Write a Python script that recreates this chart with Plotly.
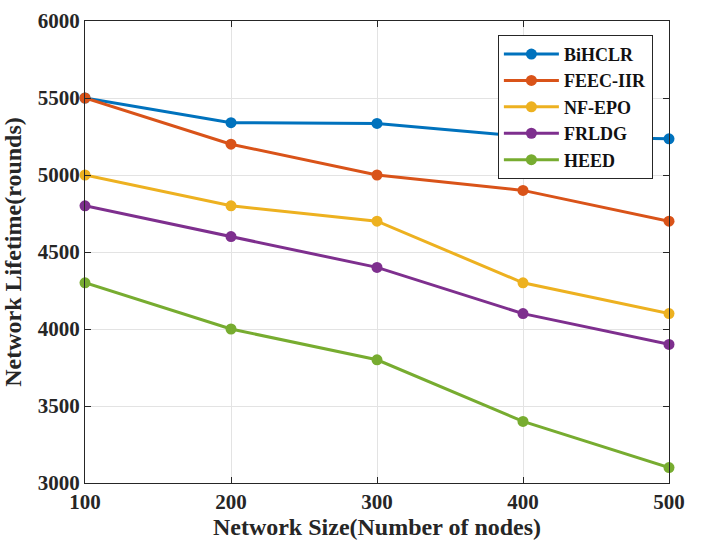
import plotly.graph_objects as go

network_size = [100, 200, 300, 400, 500]
bihclr = [5500, 5340, 5335, 5250, 5235]
feec_iir = [5500, 5200, 5000, 4900, 4700]
nf_epo = [5000, 4800, 4700, 4300, 4100]
frldg = [4800, 4600, 4400, 4100, 3900]
heed = [4300, 4000, 3800, 3400, 3100]

series = [
    ("BiHCLR", bihclr, "#0072BD"),
    ("FEEC-IIR", feec_iir, "#D95319"),
    ("NF-EPO", nf_epo, "#EDB120"),
    ("FRLDG", frldg, "#7E2F8E"),
    ("HEED", heed, "#77AC30"),
]

font_family = "Liberation Serif, Times New Roman, serif"

fig = go.Figure()
for name, vals, color in series:
    fig.add_trace(go.Scatter(
        x=network_size, y=vals, name=name, mode="lines+markers",
        line=dict(color=color, width=3),
        marker=dict(color=color, size=11),
        cliponaxis=False,
    ))

axis_common = dict(
    showgrid=True, gridcolor="#e3e3e3", gridwidth=1,
    showline=True, linecolor="#262626", linewidth=1.3, mirror="ticks",
    ticks="inside", ticklen=6, tickcolor="#262626",
    tickfont=dict(family=font_family, size=21, color="#262626", weight="bold"),
    zeroline=False, automargin=False,
)

fig.update_layout(
    width=704, height=547,
    paper_bgcolor="white", plot_bgcolor="white",
    margin=dict(l=85, r=35, t=21, b=64),
    font=dict(family=font_family, color="#262626"),
    xaxis=dict(range=[100, 500], tickvals=[100, 200, 300, 400, 500],
               title=dict(text="Network Size(Number of nodes)",
                          font=dict(size=24, weight="bold"), standoff=2),
               **axis_common),
    yaxis=dict(range=[3000, 6000], tickvals=[3000, 3500, 4000, 4500, 5000, 5500, 6000],
               title=dict(text="Network Lifetime(rounds)",
                          font=dict(size=24, weight="bold"), standoff=9),
               **axis_common),
    legend=dict(x=0.707, y=0.97, xanchor="left", yanchor="top",
                bgcolor="white", bordercolor="#262626", borderwidth=1,
                font=dict(family=font_family, size=18, color="#111111", weight="bold"),
                tracegroupgap=0, itemwidth=55),
)

fig.write_html("out.html", config={"displayModeBar": False},
               post_script="document.body.style.margin='0';")
